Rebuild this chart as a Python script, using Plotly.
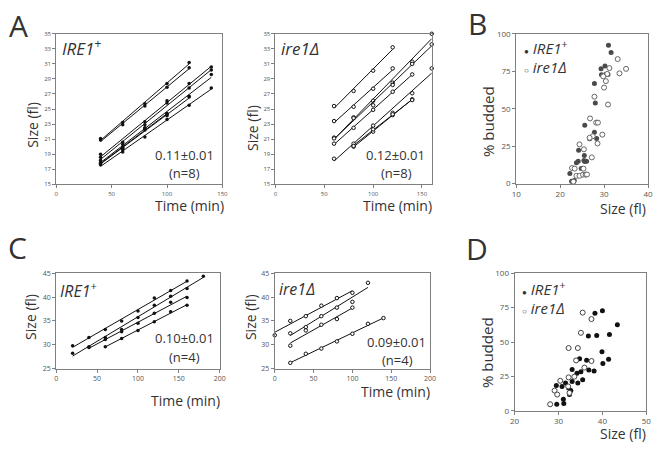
import numpy as np
import plotly.graph_objects as go

# ---------------- DATA ----------------
# Panel A, IRE1+ : size (fl) vs time (min), 8 cells
A_wt_time = [
    [40, 60, 80, 100, 120],
    [40, 60, 80, 100, 120],
    [40, 60, 80, 100, 120, 140],
    [40, 60, 80, 100, 120, 140],
    [40, 60, 80, 100, 120, 140],
    [40, 60, 80, 100, 120],
    [40, 60, 80, 100, 120, 140],
    [40, 60, 80, 100],
]
A_wt_size = [
    [21.1, 23.2, 25.7, 28.4, 31.2],
    [20.9, 22.9, 25.4, 27.9, 30.5],
    [19.0, 20.6, 23.3, 26.1, 28.4, 30.6],
    [18.6, 20.3, 22.9, 25.8, 27.8, 30.2],
    [18.2, 19.9, 22.5, 24.4, 26.7, 29.6],
    [17.9, 19.6, 22.2, 24.1, 26.6],
    [17.6, 19.3, 21.3, 23.6, 25.5, 27.8],
    [17.8, 19.8, 22.4, 24.3],
]
# Panel A, ire1 delta
A_mut_time = [
    [60, 80, 100, 120],
    [60, 80, 100, 120],
    [60, 80, 100, 120, 140, 160],
    [60, 80, 100, 120, 140, 160],
    [60, 80, 100, 120, 140],
    [60, 80, 100, 120, 140, 160],
    [80, 100, 120, 140],
    [80, 100, 120, 140],
]
A_mut_size = [
    [25.4, 27.4, 30.1, 33.2],
    [23.4, 25.3, 27.7, 30.4],
    [21.2, 23.9, 26.1, 28.5, 31.3, 35.0],
    [21.1, 23.8, 25.5, 28.2, 31.0, 33.6],
    [20.4, 22.5, 24.9, 27.3, 29.6],
    [18.4, 20.4, 22.8, 24.5, 27.1, 30.4],
    [20.0, 22.0, 24.2, 26.3],
    [20.1, 22.3, 24.3, 26.2],
]
A_slopes = ["0.11\u00b10.01", "0.12\u00b10.01"]
A_n = ["(n=8)", "(n=8)"]

# Panel B: % budded vs size
B_wt_size = [31.0, 31.6, 30.2, 29.3, 29.4, 30.3, 30.9, 27.8, 28.0, 25.6, 28.4, 27.8,
             26.7, 28.3, 24.2, 25.5, 23.7, 24.1, 25.6, 26.0, 24.8, 22.2, 22.6, 23.0,
             23.2, 22.9, 25.4]
B_wt_budded = [92.4, 87.5, 78.5, 76.6, 72.7, 72.9, 72.8, 66.8, 53.8, 39.0, 40.8, 34.3,
               30.0, 30.1, 22.3, 18.7, 14.0, 15.0, 14.8, 14.9, 10.1, 6.8, 1.6, 1.5,
               2.0, 0.8, 15.5]
B_mut_size = [33.1, 35.0, 33.5, 31.2, 30.7, 29.8, 30.4, 30.0, 27.8, 30.9, 26.8, 28.2,
              28.6, 29.6, 27.4, 28.5, 24.4, 25.4, 27.2, 22.7, 23.3, 25.3, 23.7, 24.4,
              25.2, 25.8, 23.0, 26.1, 26.7]
B_mut_budded = [83.1, 76.6, 73.6, 77.1, 73.2, 71.6, 68.4, 64.1, 58.0, 52.8, 43.5, 40.7,
                40.7, 32.7, 31.6, 26.8, 26.2, 22.9, 17.5, 10.4, 10.0, 10.0, 5.2, 5.2,
                6.0, 6.0, 1.3, 6.1, 30.6]

# Panel C, IRE1+
C_wt_time = [
    [20, 40, 60, 80, 100, 120, 140, 160],
    [20, 40, 60, 80, 100, 120, 140, 160, 180],
    [40, 60, 80, 100, 120, 140, 160],
    [60, 80, 100, 120, 140, 160],
]
C_wt_size = [
    [29.8, 31.5, 33.2, 35.0, 37.1, 39.8, 41.4, 43.4],
    [28.2, 29.6, 31.5, 33.2, 35.7, 38.3, 40.2, 41.8, 44.4],
    [29.4, 31.1, 32.7, 34.5, 36.6, 38.9, 39.9],
    [29.6, 31.3, 33.0, 34.8, 36.9, 38.3],
]
# Panel C, ire1 delta
C_mut_time = [
    [0, 20, 40, 60, 80, 100],
    [20, 40, 60, 80, 100, 120],
    [20, 40, 60, 80, 100],
    [20, 40, 60, 80, 100, 120, 140],
]
C_mut_size = [
    [32.0, 35.0, 36.0, 38.2, 39.8, 40.9],
    [32.4, 33.7, 36.0, 37.8, 39.0, 43.0],
    [29.8, 33.0, 34.2, 35.4, 37.8],
    [26.2, 28.1, 29.2, 30.7, 32.3, 34.4, 35.6],
]
C_slopes = ["0.10\u00b10.01", "0.09\u00b10.01"]
C_n = ["(n=4)", "(n=4)"]

# Panel D
D_wt_size = [38.3, 40.0, 43.4, 36.8, 38.7, 41.6, 39.9, 34.8, 36.4, 41.4, 40.1, 33.1,
             35.1, 36.9, 38.1, 34.2, 35.5, 34.4, 33.1, 31.6, 30.8, 29.5, 32.3, 31.1,
             31.2, 29.6, 32.8, 32.5]
D_wt_budded = [70.9, 72.8, 62.6, 54.4, 54.8, 55.5, 43.0, 37.8, 36.7, 37.4, 34.3, 30.0,
               28.4, 29.6, 28.9, 27.2, 22.5, 20.1, 21.3, 20.1, 17.7, 18.4, 16.5, 8.3,
               5.2, 4.7, 14.7, 11.8]
D_mut_size = [28.1, 29.1, 29.7, 30.4, 32.2, 32.3, 33.6, 34.0, 34.4, 35.1, 35.5, 35.9,
              37.5, 37.5, 32.5, 32.3]
D_mut_budded = [4.7, 14.7, 11.8, 21.8, 17.7, 45.6, 24.8, 36.6, 45.6, 56.7, 71.4, 31.4,
                36.2, 66.7, 13.0, 24.3]

# ---------------- FIGURE ----------------
PAGE_W, PAGE_H = 662, 453
OFF = 8  # default page body margin
W, H = PAGE_W - 2 * OFF, PAGE_H - 2 * OFF
FONT = "Open Sans"
GRAY = "#7f7f7f"
TXT = "#333"


def fx(p):
    return (p - OFF) / W


def fy(p):
    return 1 - (p - OFF) / H


def dom(a, b):
    return [max(0.0, min(1.0, a)), max(0.0, min(1.0, b))]


fig = go.Figure()


def growth_panel(times, sizes, ax, filled):
    xa = "x" if ax == 1 else f"x{ax}"
    ya = "y" if ax == 1 else f"y{ax}"
    for t, s in zip(times, sizes):
        t = np.array(t, float)
        s = np.array(s, float)
        k, b = np.polyfit(t, s, 1)
        xs = np.array([t.min(), t.max()])
        fig.add_trace(go.Scatter(x=xs, y=k * xs + b, mode="lines",
                                 line=dict(color="#111", width=1),
                                 xaxis=xa, yaxis=ya, showlegend=False,
                                 cliponaxis=False, hoverinfo="skip"))
        fig.add_trace(go.Scatter(
            x=t, y=s, mode="markers", xaxis=xa, yaxis=ya, showlegend=False,
            cliponaxis=False,
            marker=dict(size=3.5, color="#111" if filled else "white",
                        symbol="circle",
                        line=dict(color="#111", width=1 if not filled else 0))))


def scatter_panel(xw, yw, xm, ym, ax, wcolor, mcolor):
    xa, ya = f"x{ax}", f"y{ax}"
    fig.add_trace(go.Scatter(x=xw, y=yw, mode="markers", xaxis=xa, yaxis=ya,
                             showlegend=False, cliponaxis=False,
                             marker=dict(size=5, color=wcolor)))
    fig.add_trace(go.Scatter(x=xm, y=ym, mode="markers", xaxis=xa, yaxis=ya,
                             showlegend=False, cliponaxis=False,
                             marker=dict(size=5, color="white",
                                         line=dict(color=mcolor, width=1))))


growth_panel(A_wt_time, A_wt_size, 1, True)
growth_panel(A_mut_time, A_mut_size, 2, False)
scatter_panel(B_wt_size, B_wt_budded, B_mut_size, B_mut_budded, 3, "#4a4a4a", "#666")
growth_panel(C_wt_time, C_wt_size, 4, True)
growth_panel(C_mut_time, C_mut_size, 5, False)
scatter_panel(D_wt_size, D_wt_budded, D_mut_size, D_mut_budded, 6, "#111", "#444")


def axis(d_, rng, dtick, fs, anchor, tick0=None):
    d = dict(domain=d_, range=rng, dtick=dtick, showline=True, mirror=True,
             linecolor=GRAY, linewidth=1, ticks="outside", ticklen=3,
             tickcolor=GRAY, showgrid=False, zeroline=False, anchor=anchor,
             tickfont=dict(family=FONT, size=fs, color="#555"), fixedrange=True)
    if tick0 is not None:
        d["tick0"] = tick0
    return d


yA = dom(fy(182.7), fy(28.3))
yB = dom(fy(182), fy(28.3))
yC = dom(fy(371.7), fy(274))
yD = dom(fy(415), fy(274))

fig.update_layout(
    width=W, height=H, margin=dict(l=0, r=0, t=0, b=0),
    paper_bgcolor="white", plot_bgcolor="white", showlegend=False,
    xaxis=axis(dom(fx(52), fx(221)), [0, 150], 50, 6, "y"),
    yaxis=axis(yA, [15, 35], 2, 6, "x", tick0=15),
    xaxis2=axis(dom(fx(275), fx(434)), [0, 160], 50, 6, "y2"),
    yaxis2=axis(yA, [15, 35], 2, 6, "x2", tick0=15),
    xaxis3=axis(dom(fx(520), fx(654)), [10, 40], 10, 8, "y3"),
    yaxis3=axis(yB, [0, 100], 25, 8, "x3"),
    xaxis4=axis(dom(fx(52), fx(218.3)), [0, 200], 50, 7, "y4"),
    yaxis4=axis(yC, [25, 45], 5, 7, "x4"),
    xaxis5=axis(dom(fx(274.3), fx(432.3)), [0, 200], 50, 7, "y5"),
    yaxis5=axis(yC, [25, 45], 5, 7, "x5"),
    xaxis6=axis(dom(fx(518.3), fx(652.3)), [20, 50], 10, 8, "y6"),
    yaxis6=axis(yD, [0, 100], 25, 8, "x6"),
)

ann = []


def txt(x, y, text, size, xanchor="center", angle=0, color=TXT):
    ann.append(dict(x=fx(x), y=fy(y), xref="paper", yref="paper", text=text,
                    showarrow=False, xanchor=xanchor, yanchor="middle",
                    textangle=angle, font=dict(family=FONT, size=size, color=color)))


# panel letters
for L, x, y in [("A", 14, 20), ("B", 481, 18), ("C", 13, 248), ("D", 480, 249)]:
    txt(x, y, L, 30)

# axis titles
for x, y in [(27, 122), (251, 125), (25, 319), (249, 319)]:
    txt(x, y, "Size (fl)", 14, angle=-90)
txt(491, 118, "% budded", 15, angle=-90)
txt(490, 355, "% budded", 15, angle=-90)
txt(225, 204, "Time (min)", 14, xanchor="right")
txt(436, 204, "Time (min)", 14, xanchor="right")
txt(221, 404, "Time (min)", 14, xanchor="right")
txt(434, 395, "Time (min)", 14, xanchor="right")
txt(654, 208, "Size (fl)", 14, xanchor="right")
txt(654, 438, "Size (fl)", 14, xanchor="right")

WT = "<i>IRE1</i><sup>+</sup>"
MUT = "<i>ire1\u0394</i>"
# genotype labels
txt(56, 42, WT, 17, xanchor="left")
txt(279, 43, MUT, 17, xanchor="left")
txt(54, 291, WT, 16, xanchor="left")
txt(277, 290, MUT, 16, xanchor="left")

# slopes
txt(182, 153, A_slopes[0], 13)
txt(182, 171, A_n[0], 13)
txt(397, 153, A_slopes[1], 13)
txt(398, 171, A_n[1], 13)
txt(182, 340, C_slopes[0], 13)
txt(182, 360, C_n[0], 13)
txt(398, 344, C_slopes[1], 13)
txt(399, 363, C_n[1], 13)

# scatter legends
BUL = '<span style="font-size:8px">\u25cf</span> '
OPN = '<span style="font-size:8px">\u25cb</span> '
txt(526, 42, BUL + WT, 15, xanchor="left")
txt(526, 62, OPN + MUT, 15, xanchor="left")
txt(524, 290, BUL + WT, 15, xanchor="left")
txt(524, 310, OPN + MUT, 15, xanchor="left")

fig.update_layout(annotations=ann)
fig.write_html("out.html")
